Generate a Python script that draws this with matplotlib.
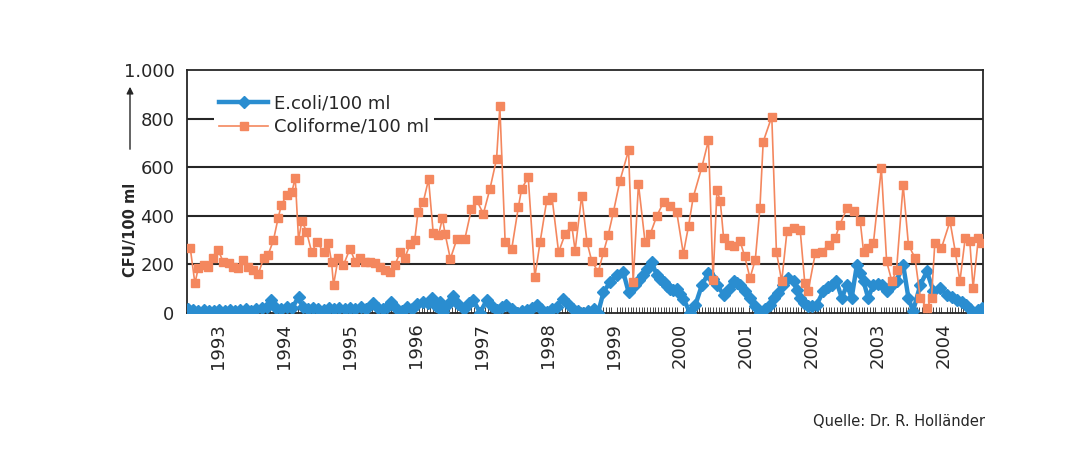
import matplotlib
matplotlib.use("Agg")
import matplotlib.pyplot as plt
from matplotlib.ticker import MultipleLocator, FixedLocator

# Coliforme/100 ml (decimal year, value)
coli_t = [1992.58, 1992.65, 1992.70, 1992.78, 1992.85, 1992.93, 1993.00, 1993.08, 1993.16, 1993.23,
          1993.31, 1993.38, 1993.46, 1993.53, 1993.61, 1993.69, 1993.76, 1993.84, 1993.91, 1993.96,
          1994.04, 1994.12, 1994.17, 1994.22, 1994.27, 1994.34, 1994.42, 1994.50, 1994.60, 1994.67,
          1994.72, 1994.75, 1994.82, 1994.90, 1995.00, 1995.08, 1995.15, 1995.23, 1995.30, 1995.38,
          1995.45, 1995.53, 1995.61, 1995.68, 1995.76, 1995.83, 1995.91, 1995.98, 1996.03, 1996.11,
          1996.19, 1996.26, 1996.34, 1996.40, 1996.44, 1996.52, 1996.62, 1996.74, 1996.84, 1996.92,
          1997.02, 1997.12, 1997.22, 1997.27, 1997.35, 1997.45, 1997.55, 1997.60, 1997.70, 1997.80,
          1997.88, 1997.98, 1998.06, 1998.16, 1998.26, 1998.36, 1998.41, 1998.51, 1998.59, 1998.66,
          1998.76, 1998.84, 1998.91, 1998.99, 1999.09, 1999.22, 1999.29, 1999.37, 1999.47, 1999.55,
          1999.65, 1999.75, 1999.85, 1999.95, 2000.05, 2000.13, 2000.20, 2000.33, 2000.43, 2000.50,
          2000.56, 2000.61, 2000.66, 2000.74, 2000.81, 2000.91, 2000.98, 2001.06, 2001.14, 2001.21,
          2001.26, 2001.39, 2001.46, 2001.54, 2001.62, 2001.72, 2001.82, 2001.89, 2001.94, 2002.05,
          2002.15, 2002.25, 2002.35, 2002.42, 2002.53, 2002.63, 2002.73, 2002.78, 2002.85, 2002.93,
          2003.05, 2003.13, 2003.21, 2003.28, 2003.38, 2003.46, 2003.56, 2003.64, 2003.74, 2003.81,
          2003.86, 2003.96, 2004.09, 2004.17, 2004.24, 2004.32, 2004.39, 2004.44, 2004.52, 2004.58]
coli_v = [266, 122, 184, 197, 190, 225, 260, 210, 205, 190,
          185, 218, 190, 175, 160, 225, 240, 300, 390, 445,
          485, 500, 555, 300, 380, 335, 250, 293, 250, 290,
          210, 115, 225, 197, 265, 210, 225, 210, 210, 205,
          190, 175, 170, 197, 250, 225, 285, 300, 415, 457,
          550, 330, 320, 390, 326, 223, 305, 305, 429, 463,
          408, 511, 634, 850, 292, 264, 435, 511, 559, 148,
          292, 463, 477, 250, 326, 360, 257, 483, 292, 216,
          168, 250, 319, 415, 545, 669, 127, 531, 292, 326,
          401, 456, 442, 415, 244, 360, 477, 600, 710, 137,
          507, 459, 308, 281, 274, 295, 233, 144, 219, 432,
          705, 808, 253, 130, 336, 350, 342, 123, 89, 247,
          253, 281, 308, 363, 432, 418, 377, 253, 267, 288,
          596, 212, 130, 178, 527, 281, 226, 62, 20, 62,
          288, 267, 377, 253, 130, 308, 295, 103, 308, 288]

# E.coli/100 ml (decimal year, value)
ecoli_t = [1992.55, 1992.62, 1992.70, 1992.78, 1992.86, 1992.94, 1993.02, 1993.10, 1993.18, 1993.26,
           1993.34, 1993.42, 1993.50, 1993.58, 1993.66, 1993.74, 1993.81, 1993.88, 1993.96, 1994.04,
           1994.12, 1994.22, 1994.28, 1994.36, 1994.44, 1994.52, 1994.60, 1994.68, 1994.76, 1994.84,
           1994.92, 1995.00, 1995.08, 1995.16, 1995.24, 1995.35, 1995.42, 1995.50, 1995.56, 1995.62,
           1995.70, 1995.78, 1995.86, 1995.94, 1996.02, 1996.10, 1996.18, 1996.24, 1996.30, 1996.36,
           1996.41, 1996.48, 1996.56, 1996.64, 1996.72, 1996.80, 1996.87, 1996.97, 1997.07, 1997.15,
           1997.22, 1997.30, 1997.37, 1997.45, 1997.53, 1997.60, 1997.68, 1997.76, 1997.83, 1997.90,
           1997.98, 1998.06, 1998.13, 1998.23, 1998.30, 1998.38, 1998.46, 1998.53, 1998.61, 1998.69,
           1998.76, 1998.84, 1998.94, 1999.04, 1999.14, 1999.22, 1999.32, 1999.38, 1999.44, 1999.50,
           1999.57, 1999.65, 1999.70, 1999.75, 1999.80, 1999.85, 1999.90, 1999.95, 2000.00, 2000.05,
           2000.15, 2000.23, 2000.33, 2000.43, 2000.50, 2000.56, 2000.66, 2000.74, 2000.81, 2000.86,
           2000.91, 2000.98, 2001.06, 2001.14, 2001.21, 2001.28, 2001.36, 2001.42, 2001.49, 2001.56,
           2001.64, 2001.72, 2001.77, 2001.82, 2001.88, 2001.94, 2002.00, 2002.07, 2002.17, 2002.24,
           2002.30, 2002.37, 2002.45, 2002.53, 2002.60, 2002.68, 2002.73, 2002.78, 2002.85, 2002.93,
           2003.00, 2003.06, 2003.13, 2003.20, 2003.28, 2003.38, 2003.46, 2003.53, 2003.64, 2003.74,
           2003.84, 2003.94, 2004.04, 2004.12, 2004.19, 2004.27, 2004.34, 2004.40, 2004.44, 2004.52,
           2004.58]
ecoli_v = [15, 12, 10, 12, 8, 10, 12, 8, 14, 10,
           12, 18, 10, 15, 20, 25, 55, 20, 15, 25,
           20, 65, 25, 15, 20, 18, 12, 20, 15, 22,
           15, 20, 18, 25, 15, 40, 20, 15, 25, 45,
           20, 10, 25, 15, 35, 45, 40, 60, 30, 45,
           5, 35, 70, 35, 18, 40, 52, 2, 52, 30,
           11, 25, 31, 15, 2, 8, 11, 20, 31, 15,
           5, 15, 25, 59, 35, 18, 10, 2, 10, 18,
           2, 86, 127, 155, 168, 86, 114, 135, 155, 180,
           210, 155, 140, 127, 110, 100, 95, 100, 80, 59,
           2, 31, 114, 165, 140, 116, 75, 100, 130, 125,
           116, 90, 62, 30, 0, 15, 34, 60, 82, 115,
           144, 130, 95, 62, 40, 27, 30, 34, 89, 105,
           116, 130, 62, 116, 62, 199, 165, 130, 62, 116,
           118, 116, 89, 110, 130, 199, 62, 7, 116, 171,
           89, 103, 75, 65, 55, 45, 34, 15, 0, 12,
           20]

years = list(range(1993, 2005))
y_ticks = [0, 200, 400, 600, 800, 1000]
y_labels = ["0", "200", "400", "600", "800", "1.000"]

blue = "#2a8dd0"
orange = "#f4875e"
dark = "#262626"

fig = plt.figure(figsize=(10.67, 4.49), dpi=100)
ax = fig.add_axes([187 / 1067, 1 - 313 / 449, (983 - 187) / 1067, (313 - 70) / 449])

ax.plot(ecoli_t, ecoli_v, color=blue, lw=3.2, marker="D", markersize=6.5,
        label="E.coli/100 ml", zorder=3)
ax.plot(coli_t, coli_v, color=orange, lw=1.2, marker="s", markersize=5.5,
        label="Coliforme/100 ml", zorder=4)

ax.set_xlim(1992.53, 2004.59)
ax.set_ylim(0, 1000)
ax.set_yticks(y_ticks)
ax.set_yticklabels(y_labels)
ax.xaxis.set_major_locator(FixedLocator(years))
ax.set_xticklabels([str(y) for y in years], rotation=90)
ax.xaxis.set_minor_locator(MultipleLocator(1 / 24))

ax.tick_params(axis="both", which="major", length=0, labelsize=13, colors=dark)
ax.tick_params(axis="x", which="major", pad=7)
ax.tick_params(axis="y", which="major", pad=9)
ax.tick_params(axis="x", which="minor", direction="in", length=4.5, width=0.7, color="#444444")

for y in [200, 400, 600, 800]:
    ax.axhline(y, color=dark, lw=1.5, zorder=1)
for s in ax.spines.values():
    s.set_color(dark)
    s.set_linewidth(1.3)

leg = fig.legend(loc="upper left", bbox_to_anchor=(205 / 1067, 1 - 80 / 449),
                 fontsize=13, frameon=True, fancybox=False, edgecolor="none",
                 facecolor="white", framealpha=1, borderpad=0.3, handlelength=2.7,
                 handletextpad=0.3, labelspacing=0.3)
for t in leg.get_texts():
    t.set_color(dark)

fig.text(130 / 1067, 1 - 230 / 449, "CFU/100 ml", rotation=90, ha="center", va="center",
         fontsize=10.5, fontweight="bold", color=dark)
fig.add_artist(matplotlib.patches.FancyArrowPatch(
    (130 / 1067, 1 - 152 / 449), (130 / 1067, 1 - 84 / 449),
    transform=fig.transFigure, arrowstyle="-|>", mutation_scale=10,
    lw=1.0, color=dark))

fig.text(985 / 1067, 1 - 421 / 449, "Quelle: Dr. R. Holländer", ha="right", va="center",
         fontsize=10.5, color=dark)

fig.savefig("out.png", dpi=100)
